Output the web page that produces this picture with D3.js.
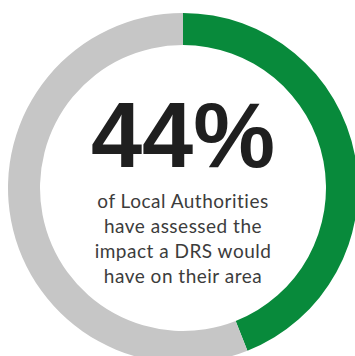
<!DOCTYPE html>
<html>
<head>
<meta charset="utf-8">
<script src="https://cdn.jsdelivr.net/npm/d3@7"></script>
<style>
  html, body { margin: 0; padding: 0; background: #fff; }
  svg { display: block; }
</style>
</head>
<body>
<svg id="chart" width="355" height="356"></svg>
<script>
// Share of Local Authorities that have assessed the impact of a DRS
const categories = ["Assessed", "Not assessed"];
const shareValues = [44, 56];
const sliceColors = ["#088a3b", "#c6c6c6"];
const headline = "44%";
const captionLines = [
  "of Local Authorities",
  "have assessed the",
  "impact a DRS would",
  "have on their area"
];

const width = 355, height = 356;
const cx = 183, cy = 188;
const outerR = 175, innerR = 143;

const svg = d3.select("#chart");
const g = svg.append("g").attr("transform", `translate(${cx},${cy})`);

const pie = d3.pie().sort(null).value(d => d.value);
const arc = d3.arc().innerRadius(innerR).outerRadius(outerR);
const color = d3.scaleOrdinal().domain(categories).range(sliceColors);

const slices = pie(categories.map((c, i) => ({ category: c, value: shareValues[i] })));

g.selectAll("path.slice")
  .data(slices)
  .join("path")
  .attr("class", "slice")
  .attr("d", arc)
  .attr("fill", d => color(d.data.category));

// Big percentage figure
g.append("text")
  .attr("x", 0)
  .attr("y", -21)
  .attr("text-anchor", "middle")
  .attr("font-family", "Liberation Sans, Arial, sans-serif")
  .attr("font-weight", "bold")
  .attr("font-size", 92)
  .attr("fill", "#1f1f1f")
  .text(headline);

// Caption beneath
const lineY = d3.scaleLinear().domain([0, captionLines.length - 1]).range([20, 95]);
g.selectAll("text.caption")
  .data(captionLines)
  .join("text")
  .attr("class", "caption")
  .attr("x", 0)
  .attr("y", (d, i) => lineY(i))
  .attr("text-anchor", "middle")
  .attr("font-family", "Lato, sans-serif")
  .attr("font-size", 19)
  .attr("letter-spacing", 0.5)
  .attr("fill", "#3c3c3c")
  .text(d => d);
</script>
</body>
</html>
